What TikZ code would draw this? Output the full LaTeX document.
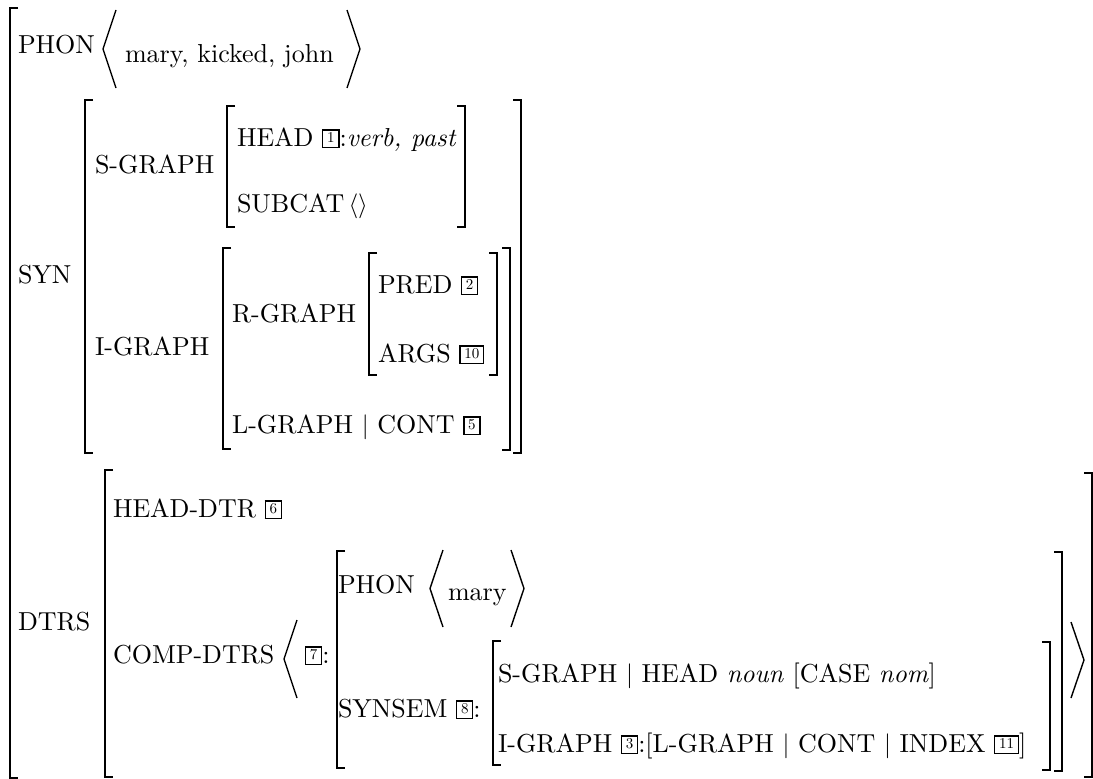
\documentclass[tikz,border=0pt]{standalone}
\usepackage{fontspec}
\setmainfont{lmroman10-regular.otf}[ItalicFont=lmroman10-italic.otf,BoldFont=lmroman10-bold.otf]
\newcommand\bx[1]{\raisebox{3.6pt}{\fboxsep=1.4pt\fboxrule=1.2pt\fbox{\rule[-3pt]{0pt}{13.4pt}\hspace{2.3pt}\fontsize{15}{15}\selectfont #1\hspace{2.3pt}}}}
\newcommand\lbrk[3]{\draw[br] (#1+8,#2) -- (#1,#2) -- (#1,#3) -- (#1+8,#3);}
\newcommand\rbrk[3]{\draw[br] (#1-8,#2) -- (#1,#2) -- (#1,#3) -- (#1-8,#3);}
\newcommand\langl[3]{\draw[ang] (#1+13,#2) -- (#1,{(#2+#3)/2}) -- (#1+13,#3);}
\newcommand\rangl[3]{\draw[ang] (#1-13,#2) -- (#1,{(#2+#3)/2}) -- (#1-13,#3);}
\begin{document}
\begin{tikzpicture}[x=1pt,y=-1pt,
  t/.style={anchor=base west,inner sep=0pt,outer sep=0pt,font=\fontsize{26}{30}\selectfont},
  br/.style={line width=1.7pt},
  ang/.style={line width=1.4pt}]
\useasboundingbox (0,0) rectangle (1093,779);
% brackets
\lbrk{10}{8}{778}
\lbrk{85}{100}{453}  \rbrk{521}{100}{453}
\lbrk{227}{106}{227} \rbrk{465}{106}{227}
\lbrk{223}{248}{449} \rbrk{510}{248}{450}
\lbrk{369}{253}{375} \rbrk{497}{253}{375}
\lbrk{105}{470}{777} \rbrk{1092}{473}{777}
\lbrk{337}{551}{768} \rbrk{1062}{552}{771}
\lbrk{493}{641}{765} \rbrk{1050}{642}{770}
% angle brackets
\langl{103}{10}{88}  \rangl{360}{10}{88}
\langl{284}{620}{698}
\langl{430}{550}{627} \rangl{524}{550}{627}
\rangl{1084}{622}{698}
% texts
\node[t] (phon) at (18,53) {PHON};
\node[t] (phonval) at (125,62) {mary, kicked, john};
\node[t] (syn) at (18,283) {SYN};
\node[t] (sgraph) at (95,173) {S-GRAPH};
\node[t] (head) at (237,146) {HEAD \bx{1}:\textit{verb, past}};
\node[t] (subcat) at (237,212) {SUBCAT\,$\langle\rangle$};
\node[t] (igraph) at (95,355) {I-GRAPH};
\node[t] (rgraph) at (232,322) {R-GRAPH};
\node[t] (pred) at (378,293) {PRED \bx{2}};
\node[t] (args) at (378,362) {ARGS \bx{10}};
\node[t] (lgraph) at (232,433) {L-GRAPH $|$ CONT \bx{5}};
\node[t] (dtrs) at (18,630) {DTRS};
\node[t] (headdtr) at (113,517) {HEAD-DTR \bx{6}};
\node[t] (compdtrs) at (113,663) {COMP-DTRS};
\node[t] (seven) at (305,663) {\bx{7}:};
\node[t] (phon2) at (338,593) {PHON};
\node[t] (mary) at (448,600) {mary};
\node[t] (synsem) at (338,717) {SYNSEM \bx{8}:};
\node[t] (sg2) at (498,682) {S-GRAPH $|$ HEAD \textit{noun} [CASE \textit{nom}]};
\node[t] (ig2) at (498,752) {I-GRAPH \bx{3}:[L-GRAPH $|$ CONT $|$ INDEX \bx{11}]};
\end{tikzpicture}
\end{document}
